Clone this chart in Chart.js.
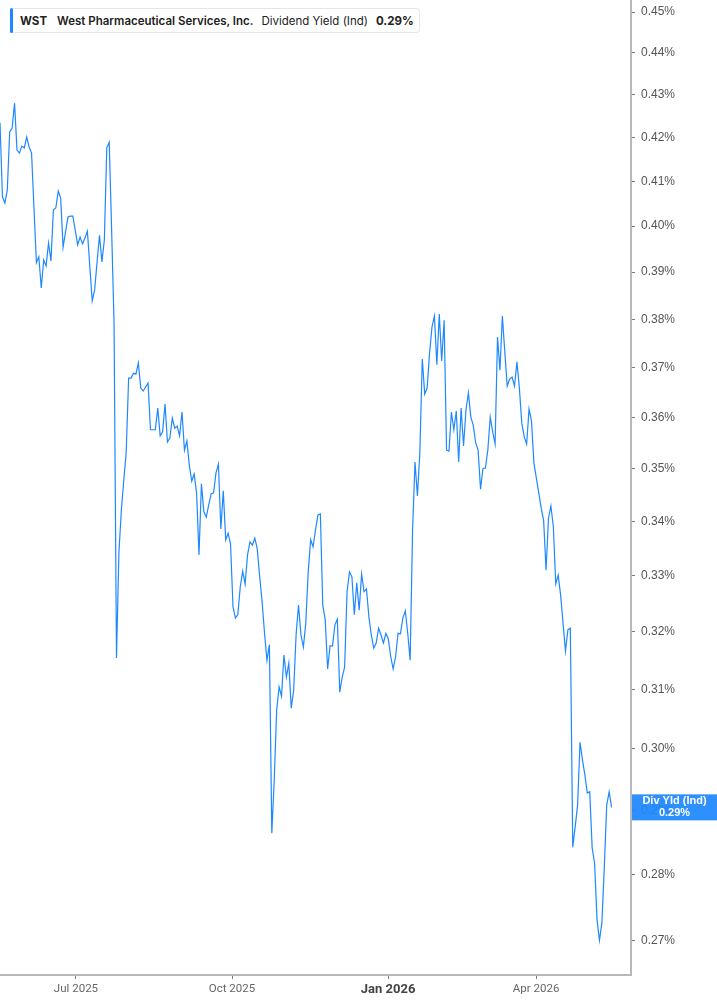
<!DOCTYPE html>
<html>
<head>
<meta charset="utf-8">
<script src="https://cdn.jsdelivr.net/npm/chart.js@4.4.1/dist/chart.umd.min.js"></script>
<style>
  html, body { margin: 0; padding: 0; background: #fff; }
  #wrap { position: relative; width: 717px; height: 1005px; }
  #legend {
    position: absolute; left: 10px; top: 8px; height: 25px;
    display: flex; align-items: center; gap: 8px;
    padding: 1px 5px 0 10px; box-sizing: border-box;
    border: 1px solid #e6e6e6; border-left: none; border-radius: 4px;
    background: #fff; font-family: Inter, "Noto Sans", sans-serif; font-size: 11.5px; color: #222;
  }
  #legend::before {
    content: ''; position: absolute; left: 0; top: -1px; bottom: -1px; width: 3px;
    background: #1e88ff; border-radius: 3px;
  }
  #legend .tk { font-weight: 700; margin-right: 2px; }
  #legend .nm { font-weight: 600; }
  #legend .mt { font-weight: 400; }
  #legend .vl { font-weight: 700; }
</style>
</head>
<body>
<div id="wrap">
  <canvas id="chart-yield"></canvas>
  <div id="legend"></div>
</div>
<script>
/* WST dividend yield (indicated), daily, % — log scale */

const ticker = 'WST';
const companyName = 'West Pharmaceutical Services, Inc.';
const metricName = 'Dividend Yield (Ind)';
const badgeName = 'Div Yld (Ind)';

// one value per trading day, mid-May 2025 .. mid-May 2026
const divYield = [
  0.4234, 0.4065, 0.4051, 0.4080, 0.4213, 0.4222, 0.4280, 0.4171, 0.4164, 0.4180,
  0.4176, 0.4201, 0.4178, 0.4164, 0.4040, 0.3920, 0.3933, 0.3866, 0.3926, 0.3913,
  0.3963, 0.3924, 0.4036, 0.4040, 0.4078, 0.4062, 0.3954, 0.3987, 0.4020, 0.4022,
  0.4022, 0.3991, 0.3959, 0.3976, 0.3961, 0.3974, 0.3989, 0.3913, 0.3839, 0.3862,
  0.3922, 0.3980, 0.3922, 0.3970, 0.4176, 0.4189, 0.3991, 0.3790, 0.3154,
  0.3342, 0.3421, 0.3478, 0.3532, 0.3679, 0.3679, 0.3689, 0.3687, 0.3710, 0.3659,
  0.3653, 0.3661, 0.3669, 0.3576, 0.3576, 0.3576, 0.3619, 0.3564, 0.3572, 0.3627,
  0.3552, 0.3560, 0.3599, 0.3579, 0.3583, 0.3564, 0.3611, 0.3536, 0.3554, 0.3507,
  0.3476, 0.3490, 0.3454, 0.3338, 0.3471, 0.3418, 0.3408, 0.3431, 0.3452, 0.3454,
  0.3492, 0.3509, 0.3386, 0.3458, 0.3366, 0.3378, 0.3358,
  0.3244, 0.3224, 0.3230, 0.3280, 0.3308, 0.3285, 0.3338, 0.3362, 0.3356, 0.3369,
  0.3349, 0.3298, 0.3253, 0.3197, 0.3150, 0.3177, 0.2864, 0.2949, 0.3065, 0.3104,
  0.3088, 0.3159, 0.3121, 0.3145, 0.3068, 0.3098, 0.3194, 0.3247, 0.3194, 0.3173,
  0.3215, 0.3307, 0.3366, 0.3353, 0.3384, 0.3412, 0.3414, 0.3247, 0.3221, 0.3135,
  0.3175, 0.3175, 0.3212, 0.3222, 0.3095, 0.3121, 0.3138, 0.3271, 0.3307, 0.3298,
  0.3230, 0.3287, 0.3238, 0.3303, 0.3271, 0.3276, 0.3226, 0.3194, 0.3171, 0.3180,
  0.3206, 0.3194, 0.3180, 0.3197, 0.3187, 0.3156, 0.3135, 0.3156, 0.3197, 0.3196,
  0.3224, 0.3237, 0.3197, 0.3150, 0.3384, 0.3513, 0.3448, 0.3531, 0.3718, 0.3647,
  0.3659, 0.3730, 0.3784, 0.3807, 0.3706, 0.3811, 0.3714, 0.3798, 0.3536, 0.3534,
  0.3611, 0.3576, 0.3613, 0.3513, 0.3619, 0.3544, 0.3615, 0.3649, 0.3601, 0.3585,
  0.3550, 0.3536, 0.3461, 0.3501, 0.3501, 0.3536, 0.3601, 0.3572, 0.3548, 0.3763,
  0.3695, 0.3807, 0.3732, 0.3663, 0.3677, 0.3681, 0.3663, 0.3712, 0.3659, 0.3589,
  0.3562, 0.3548, 0.3617, 0.3593, 0.3511, 0.3482, 0.3454, 0.3425, 0.3402, 0.3310,
  0.3406, 0.3429, 0.3390, 0.3285, 0.3301, 0.3265, 0.3215, 0.3166, 0.3203, 0.3206,
  0.2842, 0.2874, 0.2909, 0.3011, 0.2982, 0.2957, 0.2928, 0.2930, 0.2841, 0.2817,
  0.2731, 0.2700, 0.2726, 0.2811, 0.2909, 0.2930, 0.2905,
];

// x ticks: position in trading-day index, label
const xTickPos = [31.3, 95.6, 159.9, 220.9];
const xTickLabels = ['Jul 2025', 'Oct 2025', 'Jan 2026', 'Apr 2026'];
const xBoldTick = 'Jan 2026';

const yTickValues = [0.45, 0.44, 0.43, 0.42, 0.41, 0.40, 0.39, 0.38, 0.37, 0.36,
  0.35, 0.34, 0.33, 0.32, 0.31, 0.30, 0.29, 0.28, 0.27];

const lastValue = divYield[divYield.length - 1];
const fmtPct = v => v.toFixed(2) + '%';

/* ---- header legend ---- */
document.getElementById('legend').innerHTML =
  `<span class="tk">${ticker}</span><span class="nm">${companyName}</span>` +
  `<span class="mt">${metricName}</span><span class="vl">${fmtPct(lastValue)}</span>`;

/* ---- last value badge on the right axis ---- */
const lastBadge = {
  id: 'lastBadge',
  afterDraw(chart) {
    const { ctx, chartArea, width } = chart;
    const y = chart.scales.y.getPixelForValue(lastValue);
    const x0 = chartArea.right + 1;
    ctx.save();
    ctx.fillStyle = 'rgba(30,136,255,0.93)';
    ctx.fillRect(x0, y - 13, width - x0, 26);
    ctx.fillStyle = '#fff';
    ctx.font = 'bold 11px "Liberation Sans", Arial, sans-serif';
    ctx.textAlign = 'center';
    ctx.textBaseline = 'middle';
    const cx = (x0 + width) / 2;
    ctx.fillText(badgeName, cx, y - 6);
    ctx.fillText(fmtPct(lastValue), cx, y + 6);
    ctx.restore();
  },
};

new Chart(document.getElementById('chart-yield'), {
  type: 'line',
  data: {
    datasets: [{
      label: metricName,
      data: divYield.map((v, i) => ({ x: i, y: v })),
      borderColor: '#1e88ff',
      borderWidth: 1.2,
      pointRadius: 0,
      tension: 0,
      fill: false,
    }],
  },
  options: {
    responsive: true,
    maintainAspectRatio: false,
    animation: false,
    layout: { padding: 0 },
    plugins: { legend: { display: false }, tooltip: { enabled: false } },
    scales: {
      x: {
        type: 'linear',
        min: 0,
        max: 260,
        afterBuildTicks: s => { s.ticks = xTickPos.map(v => ({ value: v })); },
        afterFit: s => { s.height = 30; s.paddingLeft = 0; s.paddingRight = 0; },
        grid: { drawOnChartArea: false, drawTicks: true, tickLength: 4, tickColor: '#777' },
        border: { display: true, color: '#b8b8b8', width: 2 },
        ticks: {
          autoSkip: false,
          maxRotation: 0,
          padding: 3,
          callback: (v, i) => xTickLabels[i],
          color: c => (xTickLabels[c.index] === xBoldTick ? '#444' : '#666'),
          font: c => (xTickLabels[c.index] === xBoldTick
            ? { family: 'Roboto', size: 13, weight: 'bold' }
            : { family: 'Roboto', size: 11.5 }),
        },
      },
      y: {
        type: 'logarithmic',
        position: 'right',
        min: 0.2649,
        max: 0.453,
        afterBuildTicks: s => { s.ticks = yTickValues.map(v => ({ value: v })); },
        afterFit: s => { s.width = 86; s.paddingTop = 0; s.paddingBottom = 0; },
        grid: { drawOnChartArea: false, drawTicks: true, tickLength: 4, tickColor: '#777' },
        border: { display: true, color: '#b8b8b8', width: 2 },
        ticks: {
          autoSkip: false,
          padding: 6,
          color: '#555',
          font: { family: '"Liberation Sans", Arial, sans-serif', size: 12 },
          callback: v => fmtPct(v),
        },
      },
    },
  },
  plugins: [lastBadge],
});
</script>
</body>
</html>
